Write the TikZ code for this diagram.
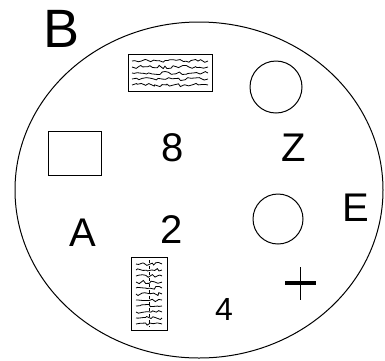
\documentclass[tikz,border=0pt]{standalone}
\usepackage{fontspec}
\setmainfont{Liberation Sans}
\usetikzlibrary{decorations.pathmorphing}

\tikzset{
  lbl/.style={inner sep=0pt, font=\fontsize{40}{40}\selectfont},
  scribble/.style={line width=0.8pt, decorate,
    decoration={random steps, segment length=3pt, amplitude=1.6pt}}
}

\begin{document}
\begin{tikzpicture}[x=1pt, y=-1pt, line width=1pt]
        \pgfmathsetseed{7}
        \useasboundingbox (0,0) rectangle (385,360);

        % Outer plate of the connector
        \draw (199,190) ellipse (184pt and 168pt);

        % Key letter outside the plate
        \node[lbl, font=\fontsize{54}{54}\selectfont] (keyB) at (62,29) {B};

        % Hatched blocks (top and bottom)
        \draw (128,54) rectangle (212,91);
        \begin{scope}
          \clip (130,56) rectangle (210,89);
          \foreach \y in {61,67,...,85}
            \draw[scribble] (132,\y) -- (208,\y);
        \end{scope}
        \draw (131,257) rectangle (167,330);
        \begin{scope}
          \clip (133,259) rectangle (165,328);
          \foreach \y in {264,270,...,324}
            \draw[scribble] (136,\y) -- (162,\y);
          \draw[line width=0.5pt, dashed] (149,260) -- (149,327);
        \end{scope}

        % Open contacts
        \draw (48,131) rectangle (101,175);
        \draw (276,87) circle (26pt);
        \draw (278,219) circle (25pt);

        % Contact letters and numbers
        \node[lbl] (n8) at (173,148) {8};
        \node[lbl] (pZ) at (294,148) {Z};
        \node[lbl] (pA) at (83,233) {A};
        \node[lbl] (n2) at (172,230) {2};
        \node[lbl] (pE) at (356,208) {E};
        \node[lbl, font=\fontsize{32}{32}\selectfont] (n4) at (224,309) {4};

        % Ground mark
        \draw[line width=4pt] (285,283) -- (316,283);
        \draw (300,267) -- (300,300);
\end{tikzpicture}
\end{document}
